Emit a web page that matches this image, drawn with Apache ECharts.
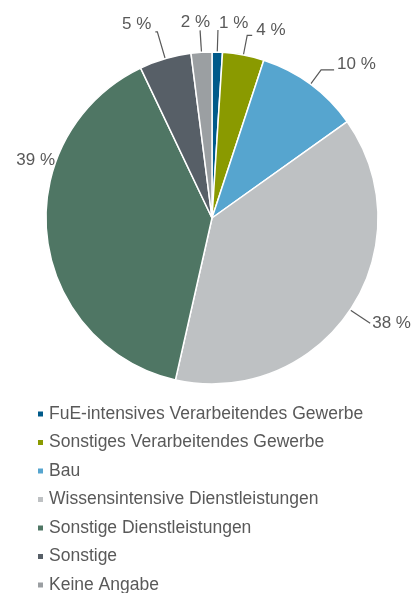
<!DOCTYPE html>
<html>
<head>
<meta charset="utf-8">
<script src="https://cdn.jsdelivr.net/npm/echarts@6/dist/echarts.min.js"></script>
<style>
  html, body { margin: 0; padding: 0; background: #ffffff; }
  #chart { width: 415px; height: 593px; }
</style>
</head>
<body>
<div id="chart"></div>
<script>
// Shares of companies by sector (percent)
const categories = [
  'FuE-intensives Verarbeitendes Gewerbe',
  'Sonstiges Verarbeitendes Gewerbe',
  'Bau',
  'Wissensintensive Dienstleistungen',
  'Sonstige Dienstleistungen',
  'Sonstige',
  'Keine Angabe'
];
const shares = [1, 4, 10, 38, 39, 5, 2];
const colors = ['#005a8a', '#8a9a00', '#56a5cf', '#bec1c3', '#4f7664', '#575f67', '#9b9fa2'];

// Leader line styling per slice: [length, length2, gap to text, label lift, label shift x, show line]
const leaderStyles = [
  [22, 0, 1, -7, 0, true],
  [20, 5, 4, -5, 0, true],
  [18, 13, 3, -6, 0, true],
  [24, 0, 2, 0, 0, true],
  [0, 0, 5, -76, 13, false],
  [28, 2, 4, -8, 0, true],
  [22, 0, -10, -8, 0, true]
];

const textColor = '#595959';
const font = '"Liberation Sans", Arial, sans-serif';

const chart = echarts.init(document.getElementById('chart'), null, { renderer: 'canvas' });

chart.setOption({
  animation: false,
  color: colors,
  legend: {
    orient: 'vertical',
    left: 36,
    top: 404,
    height: 240,
    padding: 0,
    itemWidth: 7,
    itemHeight: 7,
    itemGap: 8.5,
    icon: 'rect',
    data: categories,
    textStyle: { color: textColor, fontSize: 17.5, fontFamily: font, lineHeight: 20 }
  },
  series: [{
    type: 'pie',
    center: [212, 218],
    radius: 166,
    startAngle: 90,
    clockwise: true,
    avoidLabelOverlap: false,
    itemStyle: { borderColor: '#ffffff', borderWidth: 1.5 },
    label: {
      show: true,
      formatter: '{c} %',
      color: textColor,
      fontSize: 17,
      fontFamily: font
    },
    labelLine: {
      show: true,
      lineStyle: { color: textColor, width: 1.2 }
    },
    // lift the labels slightly above the end of their leader lines
    labelLayout: function (params) {
      const s = leaderStyles[params.dataIndex];
      return { dx: s[4], dy: s[3] };
    },
    data: categories.map((name, i) => {
      const s = leaderStyles[i];
      return {
        name: name,
        value: shares[i],
        label: { distanceToLabelLine: s[2] },
        labelLine: { show: s[5], length: s[0], length2: s[1] }
      };
    })
  }]
});
</script>
</body>
</html>
